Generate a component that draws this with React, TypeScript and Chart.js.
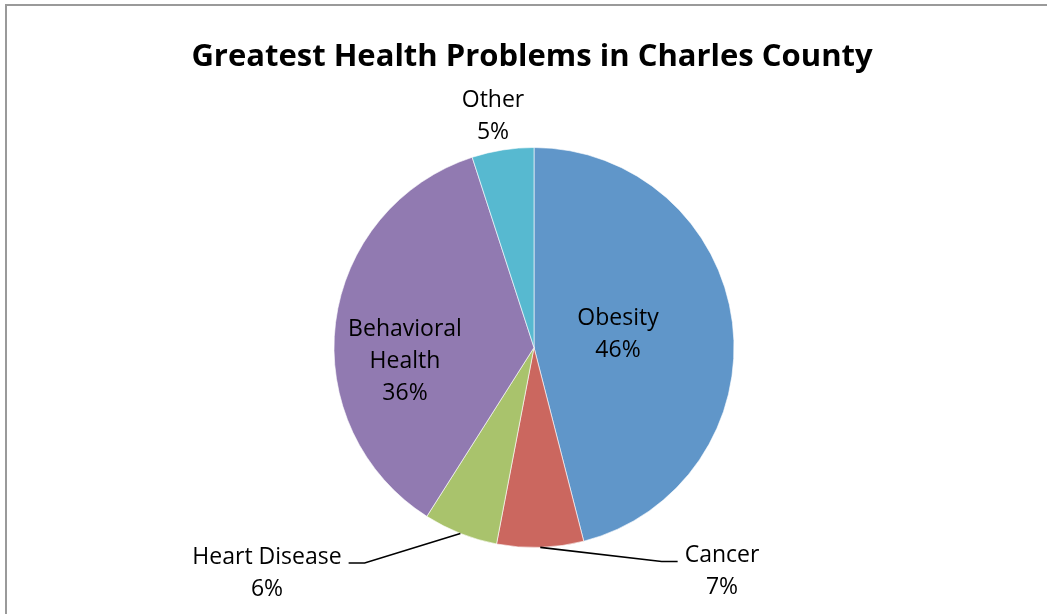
import { useEffect, useRef } from "react";
import { Chart, registerables } from "chart.js";

Chart.register(...registerables);

const chartTitle = "Greatest Health Problems in Charles County";
const categories = ["Obesity", "Cancer", "Heart Disease", "Behavioral Health", "Other"];
const shares = [46, 7, 6, 36, 5];
const labelLines = [["Obesity"], ["Cancer"], ["Heart Disease"], ["Behavioral", "Health"], ["Other"]];
const sliceColors = ["#6096C9", "#CB675F", "#A9C36C", "#917AB1", "#57B9D0"];

// Label placement, in units of the pie radius relative to its centre.
const labelLayout = [
  { dx: 0.42, dy: -0.0675, leader: false },
  { dx: 0.94, dy: 1.12, leader: true },
  { dx: -1.335, dy: 1.1275, leader: true },
  { dx: -0.645, dy: 0.0675, leader: false },
  { dx: -0.205, dy: -1.1575, leader: false },
];

const FONT_FAMILY = '"Open Sans", "Noto Sans", sans-serif';
const LABEL_FONT = `23px ${FONT_FAMILY}`;
const TITLE_FONT = `bold 31px ${FONT_FAMILY}`;
const LINE_HEIGHT = 32;

const pieLabels = {
  id: "pieLabels",
  afterDatasetsDraw(chart: any) {
    const ctx = chart.ctx as CanvasRenderingContext2D;
    const meta = chart.getDatasetMeta(0);
    const total = shares.reduce((a, b) => a + b, 0);
    ctx.save();
    ctx.font = LABEL_FONT;
    ctx.fillStyle = "#000000";
    ctx.textAlign = "center";
    ctx.textBaseline = "middle";
    meta.data.forEach((arc: any, i: number) => {
      const { x, y, startAngle, endAngle, outerRadius } = arc.getProps(
        ["x", "y", "startAngle", "endAngle", "outerRadius"],
        true
      );
      const layout = labelLayout[i];
      const cx = x + layout.dx * outerRadius;
      const cy = y + layout.dy * outerRadius;
      const pct = Math.round((shares[i] / total) * 100) + "%";
      const lines = [...labelLines[i], pct];
      const top = cy - ((lines.length - 1) * LINE_HEIGHT) / 2;
      let maxW = 0;
      lines.forEach((t, k) => {
        ctx.fillText(t, cx, top + k * LINE_HEIGHT);
        maxW = Math.max(maxW, ctx.measureText(t).width);
      });
      if (layout.leader) {
        const mid = (startAngle + endAngle) / 2;
        const ex = x + Math.cos(mid) * outerRadius;
        const ey = y + Math.sin(mid) * outerRadius;
        const right = cx > x;
        const ly = cy - 10;
        const endX = right ? cx - maxW / 2 - 7 : cx + maxW / 2 + 7;
        const elbowX = right ? endX - 16 : endX + 16;
        ctx.beginPath();
        ctx.strokeStyle = "#000000";
        ctx.lineWidth = 1.6;
        ctx.moveTo(ex, ey);
        ctx.lineTo(elbowX, ly);
        ctx.lineTo(endX, ly);
        ctx.stroke();
      }
    });
    // chart title
    ctx.font = TITLE_FONT;
    ctx.fillText(chartTitle, 532, 57);
    ctx.restore();
  },
};

export default function App() {
  const canvasRef = useRef<HTMLCanvasElement | null>(null);

  useEffect(() => {
    if (!canvasRef.current) return;
    const chart = new Chart(canvasRef.current, {
      type: "pie",
      data: {
        labels: categories,
        datasets: [
          {
            data: shares,
            backgroundColor: sliceColors,
            borderColor: "rgba(255,255,255,0.6)",
            borderWidth: 1,
            hoverOffset: 0,
          },
        ],
      },
      options: {
        responsive: false,
        animation: false,
        events: [],
        layout: { padding: { top: 147, bottom: 66, left: 21, right: 0 } },
        plugins: {
          legend: { display: false },
          title: { display: false },
          tooltip: { enabled: false },
        },
      },
      plugins: [pieLabels],
    });
    return () => chart.destroy();
  }, []);

  return (
    <div
      style={{
        position: "fixed",
        left: 0,
        top: 0,
        width: 1047,
        height: 614,
        overflow: "hidden",
        background: "#ffffff",
      }}
    >
      <canvas ref={canvasRef} width={1047} height={614} style={{ position: "absolute", left: 0, top: 0 }} />
      <div
        style={{
          position: "absolute",
          left: 5,
          top: 4,
          width: 1200,
          height: 800,
          borderLeft: "2px solid #9a9a9a",
          borderTop: "2px solid #9a9a9a",
          pointerEvents: "none",
        }}
      />
    </div>
  );
}
